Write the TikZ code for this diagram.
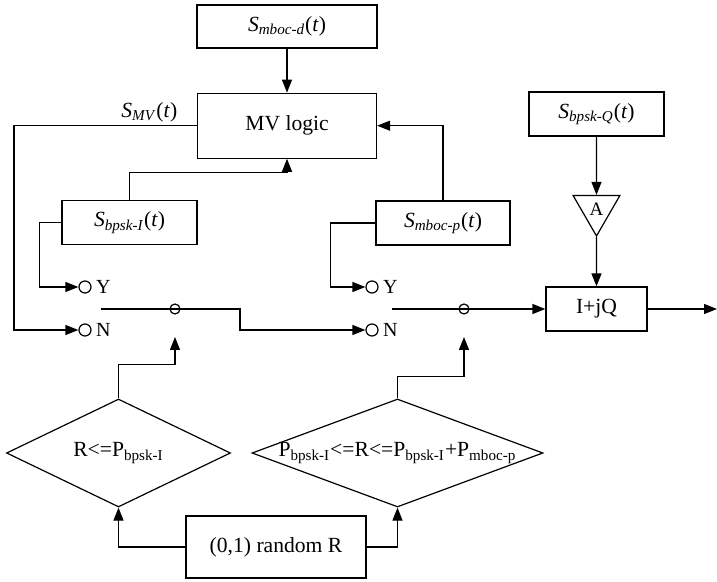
\documentclass[tikz,border=0pt]{standalone}
\usepackage{fontspec}
\setmainfont{Liberation Serif}
\usetikzlibrary{positioning,arrows.meta,shapes.geometric}

\newcommand{\sig}[1]{\textit{S}\textsubscript{\textit{#1}}(\textit{t})}

\begin{document}
\begin{tikzpicture}[
  x=0.5pt, y=-0.5pt,
  font=\fontsize{10.8}{13}\selectfont,
  line width=0.6pt,
  box/.style={draw, minimum height=22pt, inner sep=2pt},
  dia/.style={draw, diamond, minimum height=54pt, inner sep=0pt},
  term/.style={draw, circle, minimum size=6pt, inner sep=0pt},
  yn/.style={font=\fontsize{10}{12}\selectfont, inner sep=2pt},
  arr/.style={-{Triangle[length=6.5pt, width=5pt]}}]

\useasboundingbox (0,0) rectangle (717,582);

% MV logic and its inputs
\node[box, minimum width=90pt, minimum height=21.5pt] (mbocd) at (287,26.5) {\sig{mboc-d}};
\node[box, below=22pt of mbocd, minimum width=89.5pt, minimum height=32.5pt] (mv) {MV logic};
\node[box, minimum width=67.5pt] (bpski) at (129.5,222.5) {\sig{bpsk-I}};
\node[box, minimum width=67pt] (mbocp) at (443,223) {\sig{mboc-p}};

% Q branch
\node[box, minimum width=67.5pt] (bpskq) at (596.5,114) {\sig{bpsk-Q}};
\node[draw, regular polygon, regular polygon sides=3, shape border rotate=180, minimum size=27pt, inner sep=0pt, font=\fontsize{9.5}{11}\selectfont] (amp) at (596.5,209) {A};
\node[box, minimum width=50.5pt] (iq) at (596.5,309) {I+jQ};

% decisions
\node[box, minimum width=90pt, minimum height=31pt] (rnd) at (276,547) {(0,1) random R};
\node[dia, minimum width=112pt, label=center:{R<=P\textsubscript{bpsk-I}}] (d1) at (118.5,453) {};
\node[dia, minimum width=145.5pt, label=center:{P\textsubscript{bpsk-I}<=R<=P\textsubscript{bpsk-I}+P\textsubscript{mboc-p}}] (d2) at (397.5,453) {};

% switches
\node[term, label={[yn]right:Y}] (y1) at (85,287) {};
\node[term, label={[yn]right:N}] (n1) at (85,330) {};
\node[term, label={[yn]right:Y}] (y2) at (372,287) {};
\node[term, label={[yn]right:N}] (n2) at (372,330) {};
\node[term, minimum size=5pt] (p1) at (175,309) {};
\node[term, minimum size=5pt] (p2) at (464,309) {};
\coordinate (b1) at (101,309);
\coordinate (k1) at (240,309);
\coordinate (b2) at (392,309);
\coordinate (c1) at (175,337);
\coordinate (c2) at (464,337);
\coordinate (out) at (717,309);

% Edges
\draw[arr] (mbocd) -- (mv);
\draw[arr] (bpski.north) -- ++(0,-27) -| (mv.south);
\draw[arr] (mbocp.north) |- (mv.east);
\draw[arr] (mv.west) -- node[above, pos=0.26, inner sep=1.5pt] {\textit{S}\textsubscript{\textit{MV}}(\textit{t})} ++(-183,0) |- (n1);
\draw[arr] (bpski.west) -- ++(-22,0) |- (y1);
\draw[arr] (mbocp.west) -- ++(-45,0) |- (y2);
\draw[arr] (b1) -- (k1) |- (n2);
\draw[arr] (b2) -- (iq.west);
\draw[arr] (d1.north) -- ++(0,-34) -| (c1);
\draw[arr] (d2.north) -- ++(0,-22) -| (c2);
\draw[arr] (rnd.west) -| (d1.south);
\draw[arr] (rnd.east) -| (d2.south);
\draw[arr] (bpskq) -- (amp.north);
\draw[arr] (amp.south) -- (iq);
\draw[arr] (iq) -- (out);
\end{tikzpicture}
\end{document}
